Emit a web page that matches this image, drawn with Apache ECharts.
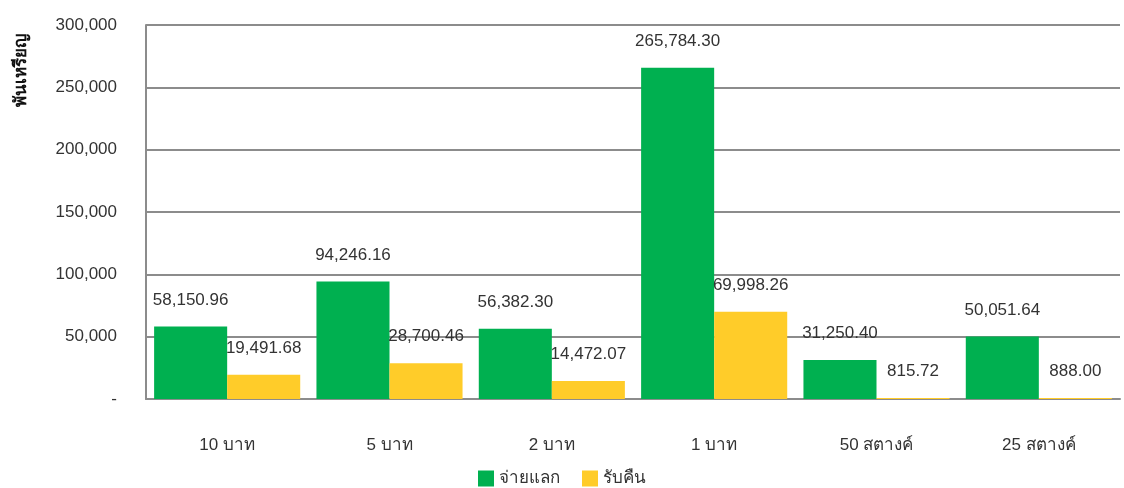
<!DOCTYPE html>
<html>
<head>
<meta charset="utf-8">
<script src="https://cdn.jsdelivr.net/npm/echarts@6/dist/echarts.min.js"></script>
<style>
  html, body { margin: 0; padding: 0; background: #fff; }
  #chart { width: 1124px; height: 488px; }
</style>
</head>
<body>
<div id="chart"></div>
<script>
// ข้อมูลเหรียญ (พันเหรียญ)
var categories = ['10 บาท', '5 บาท', '2 บาท', '1 บาท', '50 สตางค์', '25 สตางค์'];
var payOut = [58150.96, 94246.16, 56382.30, 265784.30, 31250.40, 50051.64];
var takeBack = [19491.68, 28700.46, 14472.07, 69998.26, 815.72, 888.00];
var seriesNames = ['จ่ายแลก', 'รับคืน'];

var fontFamily = '"Liberation Sans", Tahoma, sans-serif';

function fmt(v) {
    return v.toLocaleString('en-US', { minimumFractionDigits: 2, maximumFractionDigits: 2 });
}

var chart = echarts.init(document.getElementById('chart'));
var option = {
    animation: false,
    textStyle: { fontFamily: fontFamily },
    grid: { left: 146, right: 4, top: 25, bottom: 89 },
    legend: {
        top: 470,
        left: 'center',
        padding: 0,
        itemWidth: 16,
        itemHeight: 16,
        itemGap: 22,
        icon: 'rect',
        textStyle: { fontSize: 17, color: '#333', fontFamily: fontFamily },
        data: seriesNames
    },
    graphic: [{
        type: 'text',
        left: 13,
        top: 34,
        rotation: Math.PI / 2,
        style: {
            text: 'พันเหรียญ',
            font: 'bold 17px ' + fontFamily,
            fill: '#111'
        }
    }],
    xAxis: {
        type: 'category',
        data: categories,
        axisTick: { show: false },
        axisLine: { lineStyle: { color: '#8c8c8c', width: 2 } },
        axisLabel: { margin: 38, fontSize: 17, color: '#333' }
    },
    yAxis: {
        type: 'value',
        min: 0,
        max: 300000,
        interval: 50000,
        axisLine: { show: true, lineStyle: { color: '#8c8c8c', width: 2 } },
        axisTick: { show: false },
        splitLine: { lineStyle: { color: '#8c8c8c', width: 2 } },
        axisLabel: {
            margin: 29,
            fontSize: 17,
            color: '#333',
            formatter: function(v) {
                return v === 0 ? '-' : v.toLocaleString('en-US');
            }
        }
    },
    series: [{
            name: seriesNames[0],
            type: 'bar',
            data: payOut,
            barGap: '0%',
            barCategoryGap: '10%',
            itemStyle: { color: '#00b050' },
            label: {
                show: true,
                position: 'top',
                distance: 18,
                fontSize: 17,
                color: '#333',
                formatter: function(p) { return fmt(p.value); }
            }
        },
        {
            name: seriesNames[1],
            type: 'bar',
            data: takeBack,
            barGap: '0%',
            barCategoryGap: '10%',
            itemStyle: { color: '#ffcc29' },
            label: {
                show: true,
                position: 'top',
                distance: 18,
                fontSize: 17,
                color: '#333',
                formatter: function(p) { return fmt(p.value); }
            }
        }
    ]
};
option && chart.setOption(option);
</script>
</body>
</html>
